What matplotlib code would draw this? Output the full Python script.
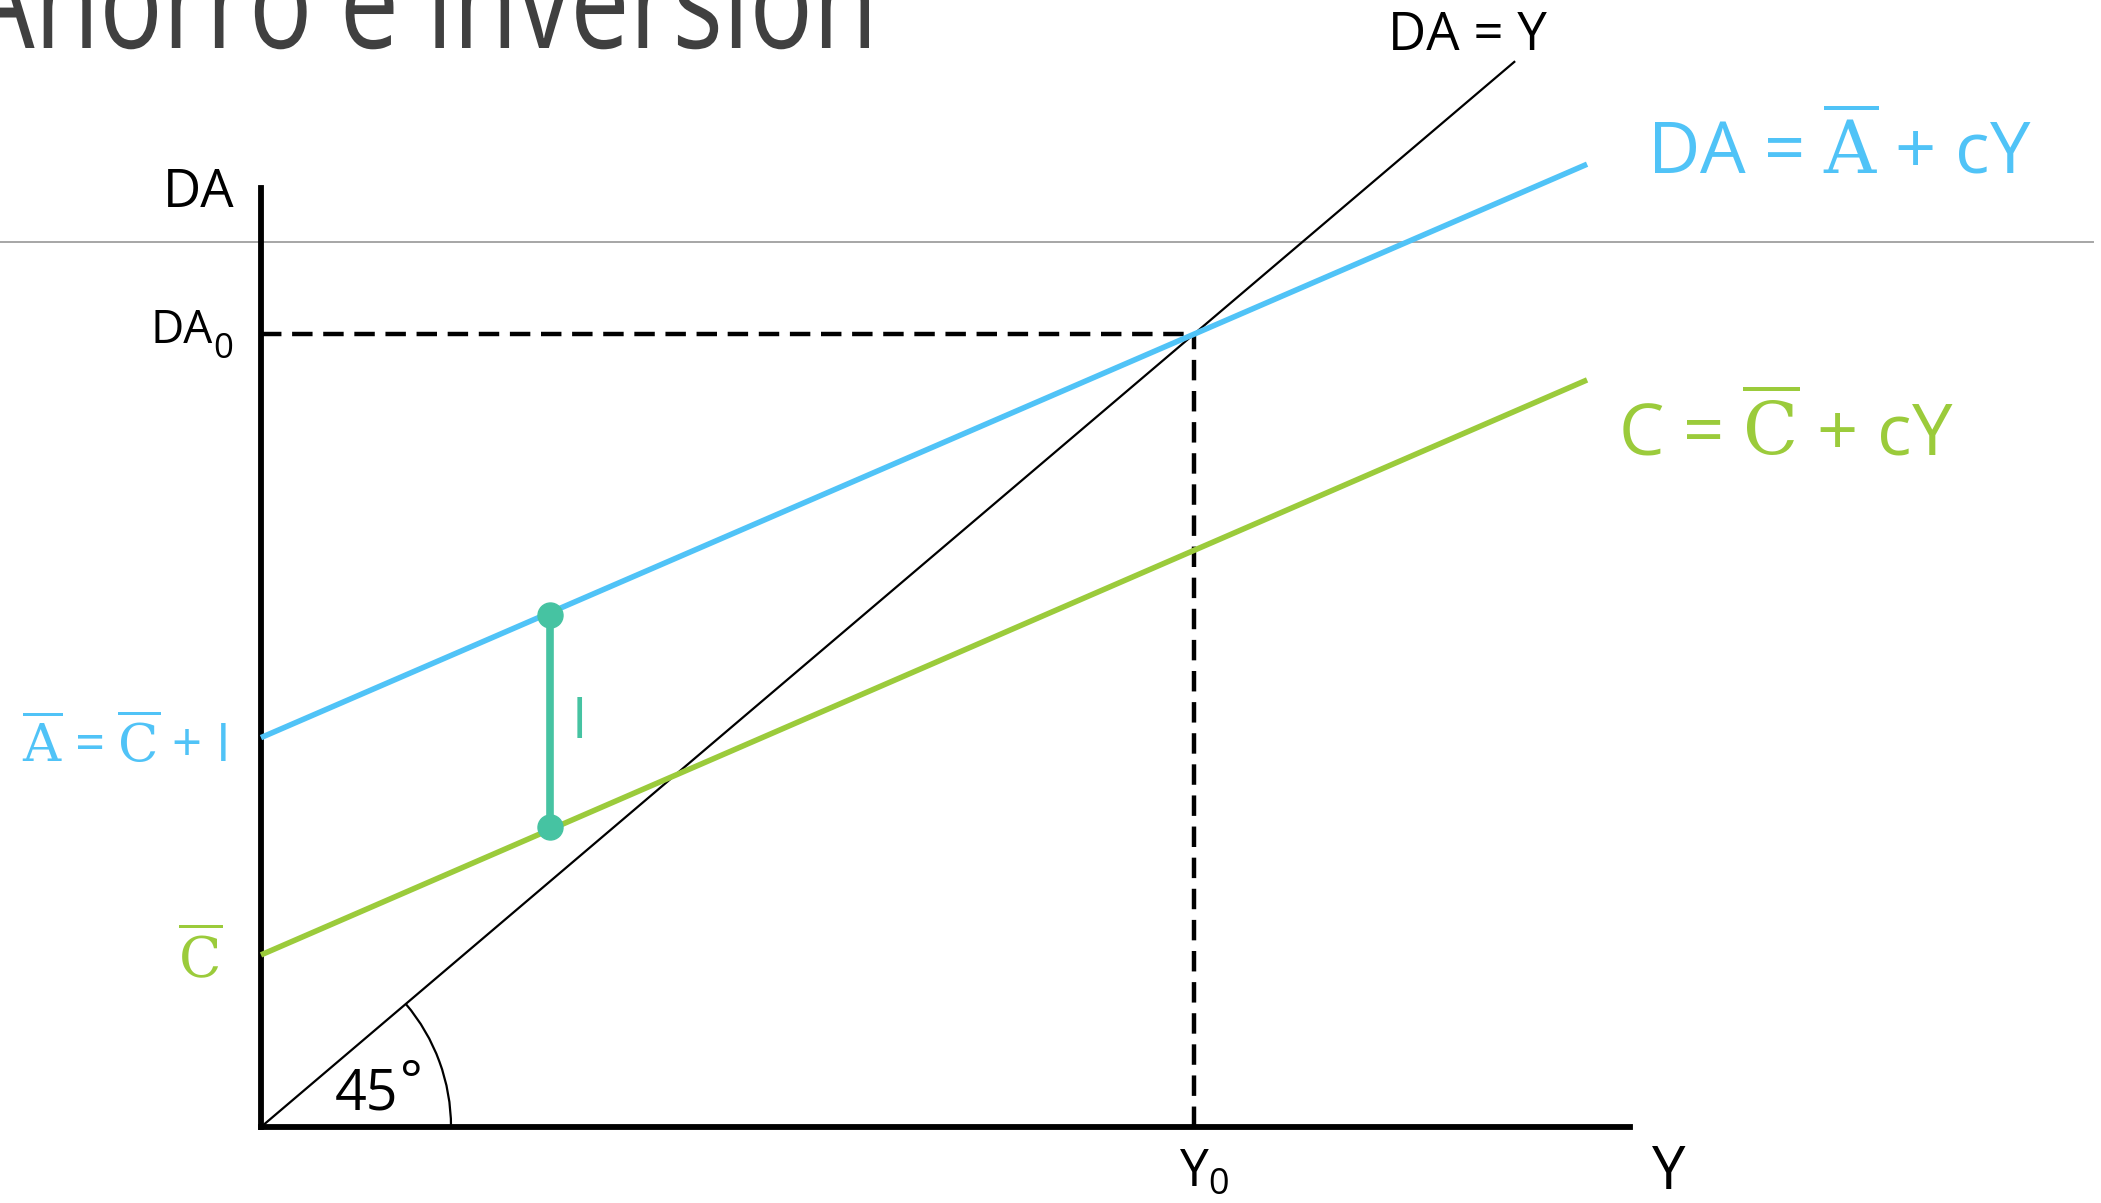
import numpy as np
import matplotlib
matplotlib.use("Agg")
import matplotlib.pyplot as plt
from matplotlib.patches import Arc, PathPatch
from matplotlib.textpath import TextPath
from matplotlib.font_manager import FontProperties
from matplotlib.transforms import Affine2D

# ------------------------------------------------------------------
# Values (Y on x axis, DA on y axis, Y0 = DA0 = 100)
# ------------------------------------------------------------------
y_end = [0.0, 142.1]
da_line = [49.1, 121.4]     # DA = A + cY
c_line = [21.7, 94.2]       # C = C + cY
diag = [0.0, 134.3]         # DA = Y
Y0 = 100.0
DA0 = 100.0
I_Y = 31.0
I_pts = [64.5, 37.8]        # top on DA line, bottom on C line
X_MAX = 146.7
Y_MAX = 118.4

BLUE = "#50C3F7"
GREEN = "#9BCB3B"
TEAL = "#46C3A2"
FONT = ["Open Sans", "DejaVu Sans"]

plt.rcParams["font.family"] = FONT
plt.rcParams["mathtext.fontset"] = "custom"
plt.rcParams["mathtext.rm"] = "DejaVu Serif"
plt.rcParams["mathtext.sf"] = "Open Sans"

W, H, DPI = 2101, 1203, 100
fig = plt.figure(figsize=(W / DPI, H / DPI), dpi=DPI)

# background layer in pixel coords (title, separator, labels)
bg = fig.add_axes([0, 0, 1, 1])
bg.set_xlim(0, W)
bg.set_ylim(H, 0)
bg.axis("off")

# ------------------------------------------------------------------
# Main diagram axes: origin at (261, 1127) px, right end 1630, top 188
# ------------------------------------------------------------------
ox, oy, rx, ty = 261, 1127, 1630, 188
ax = fig.add_axes([ox / W, (H - oy) / H, (rx - ox) / W, (oy - ty) / H])
ax.set_facecolor("none")
ax.set_xlim(0, X_MAX)
ax.set_ylim(0, Y_MAX)
ax.set_xticks([])
ax.set_yticks([])
for s in ["top", "right"]:
    ax.spines[s].set_visible(False)
for s in ["left", "bottom"]:
    ax.spines[s].set_linewidth(4.2)
    ax.spines[s].set_capstyle("projecting")

px_x = (rx - ox) / X_MAX
px_y = (oy - ty) / Y_MAX

# dashed guides
ax.plot([0, Y0], [DA0, DA0], color="black", lw=3.2, dashes=(4.6, 2.4), clip_on=False)
ax.plot([Y0, Y0], [0, DA0], color="black", lw=3.2, dashes=(4.6, 2.4), clip_on=False)

# 45 degree line and arc
ax.plot(diag, diag, color="black", lw=1.6, clip_on=False)
R = 190
ax.add_patch(Arc((0, 0), 2 * R / px_x, 2 * R / px_y, theta1=0, theta2=45,
                 color="black", lw=1.6, clip_on=False))

# aggregate demand and consumption
ax.plot(y_end, da_line, color=BLUE, lw=4.0, solid_capstyle="butt", clip_on=False, zorder=3)
ax.plot(y_end, c_line, color=GREEN, lw=4.0, solid_capstyle="butt", clip_on=False, zorder=3)

# investment gap
ax.plot([I_Y, I_Y], I_pts, color=TEAL, lw=5.5, marker="o", ms=18, zorder=4)

# ------------------------------------------------------------------
# Slide title (cut off at top) and separator
# ------------------------------------------------------------------
tp = TextPath((0, 0), "Ahorro e inversión", size=1,
              prop=FontProperties(family="Open Sans"))
ext = tp.get_extents()
sx = (869 + 32) / ext.width
sy = 72 / 0.535
tr = Affine2D().translate(-ext.x0, 0).scale(sx, -sy).translate(-32, 48) + bg.transData
bg.add_patch(PathPatch(tp, fc="#404040", ec="none", transform=tr))

bg.axhline(242, xmin=0, xmax=2093 / W, color="#A6A6A6", lw=1.4, zorder=0)

# ------------------------------------------------------------------
# Labels
# ------------------------------------------------------------------
def label(x, y, s, size, color="black", ha="left"):
    bg.text(x, y, s, fontsize=size, color=color, ha=ha, va="baseline")

label(1388, 50, "DA = Y", 38)
label(235, 207, "DA", 38, ha="right")
label(213, 343, "DA", 33, ha="right")
label(213, 358, "0", 25)
label(1179, 1186, r"Y$_\mathsf{0}$", 37)
label(1652, 1189, "Y", 43)
label(1647, 174, r"DA = $\overline{\mathrm{A}}$ + cY", 52, BLUE)
label(1618, 455, r"C = $\overline{\mathrm{C}}$ + cY", 52, GREEN)
label(227, 762, r"$\overline{\mathrm{A}}$ = $\overline{\mathrm{C}}$ + I", 38, BLUE, ha="right")
label(222, 978, r"$\overline{\mathrm{C}}$", 40, GREEN, ha="right")
label(572, 738, "I", 40, TEAL)
label(335, 1110, "45", 40)
label(400, 1098, "°", 38)

fig.savefig("out.png", dpi=DPI)
